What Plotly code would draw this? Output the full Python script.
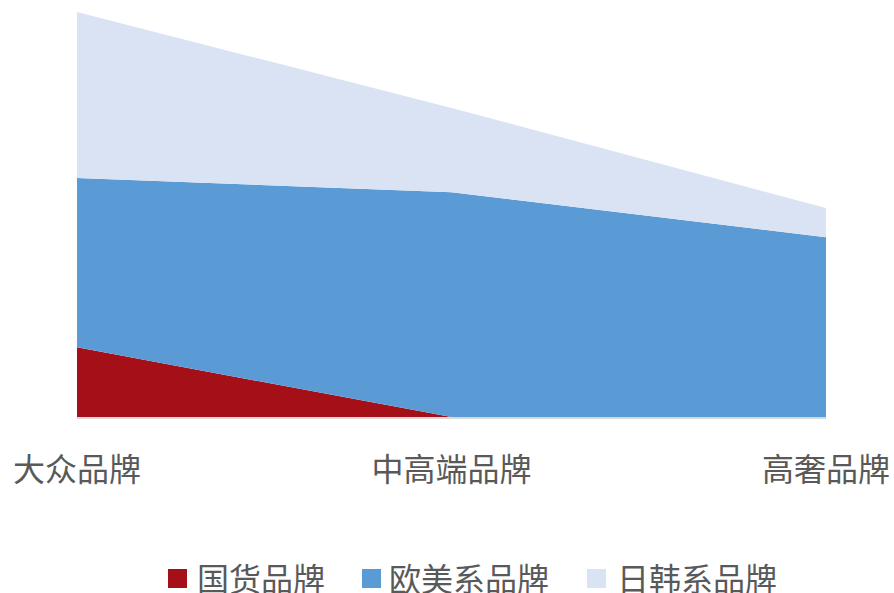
import plotly.graph_objects as go

# Brand segments (x axis) and share of each brand origin (stacked areas)
categories = ["大众品牌", "中高端品牌", "高奢品牌"]
series_names = ["国货品牌", "欧美系品牌", "日韩系品牌"]
domestic = [17.2, 0.0, 0.0]
western = [41.8, 55.5, 44.4]
jp_kr = [41.0, 20.8, 7.2]
series_values = [domestic, western, jp_kr]
colors = ["#A50F18", "#5B9BD5", "#DAE3F3"]

W, H = 894, 593
L, R, T, B = 77, 68, 12, 176
FONT = "Noto Sans CJK SC, Noto Sans, sans-serif"
TEXT_COLOR = "#595959"

fig = go.Figure()
for name, vals, col in zip(series_names, series_values, colors):
    fig.add_trace(go.Scatter(
        x=categories, y=vals, name=name, stackgroup="one",
        mode="lines", line=dict(width=0, color=col), fillcolor=col,
        showlegend=False, hoverinfo="x+y+name",
    ))

# Legend row below the axis: colored squares followed by labels
pw, ph = W - L - R, H - T - B


def px_x(px):
    return (px - L) / pw


def px_y(py):
    return (H - B - py) / ph


legend_items = [(168, 197), (362, 389), (587, 617)]
sq = 19
sq_top = 569
for (sx, tx), name, col in zip(legend_items, series_names, colors):
    fig.add_shape(type="rect", xref="paper", yref="paper",
                  x0=px_x(sx), x1=px_x(sx + sq),
                  y0=px_y(sq_top + sq), y1=px_y(sq_top),
                  fillcolor=col, line=dict(width=0))
    fig.add_annotation(xref="paper", yref="paper", x=px_x(tx - 2), y=px_y(sq_top + sq / 2 - 2),
                       text=name, showarrow=False, xanchor="left", yanchor="middle",
                       font=dict(family=FONT, size=32, color=TEXT_COLOR))

fig.update_layout(
    width=W, height=H,
    margin=dict(l=L, r=R, t=T, b=B, autoexpand=False),
    paper_bgcolor="white", plot_bgcolor="white",
    font=dict(family=FONT, color=TEXT_COLOR),
    showlegend=False,
    xaxis=dict(type="category", range=[0, 2], showgrid=False, zeroline=False,
               automargin=False,
               showline=True, linecolor="#D9D9D9", linewidth=2,
               ticks="", ticklabelstandoff=24,
               tickfont=dict(family=FONT, size=32, color=TEXT_COLOR)),
    yaxis=dict(range=[0, 100], visible=False, showgrid=False, zeroline=False),
)

fig.write_html("out.html")
